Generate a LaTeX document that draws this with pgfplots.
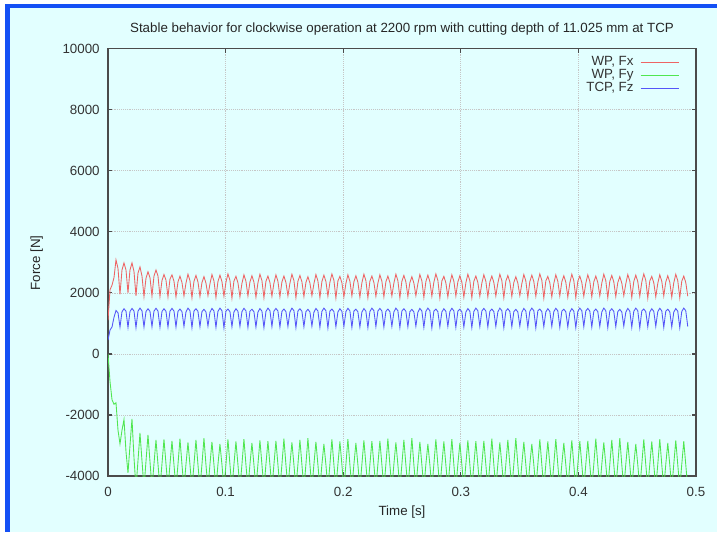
\documentclass[border=0pt]{standalone}
\usepackage{pgfplots}
\pgfplotsset{compat=1.18}
\usepackage{pgfplotstable}
\usepackage{fontspec}
\setmainfont{Liberation Sans}

\definecolor{framecol}{RGB}{20,80,245}
\definecolor{panelcol}{RGB}{226,255,255}
\definecolor{fxcol}{RGB}{238,100,100}
\definecolor{fycol}{RGB}{80,230,80}
\definecolor{fzcol}{RGB}{85,85,248}
\definecolor{axcol}{RGB}{75,75,75}

% t [s], WP Fx, WP Fy, TCP Fz [N]
\pgfplotstableread[row sep=\\]{
t fx fy fz\\
0 1100 0 450\\ 0.0017 2100 -900 780\\ 0.0034 2250 -1500 880\\ 0.0051 2500 -1650 1200\\
0.0068 3080 -1600 1420\\ 0.0085 2800 -2500 1350\\ 0.0102 1950 -2950 880\\ 0.0119 2750 -2500 1380\\
0.0136 2980 -2150 1480\\ 0.0153 2750 -3200 1400\\ 0.017 2000 -3900 870\\ 0.0187 2750 -3000 1390\\
0.0204 2980 -2130 1490\\ 0.0221 2700 -3400 1405\\ 0.0238 1900 -4400 860\\ 0.0255 2650 -3500 1400\\
0.0272 2850 -2590 1500\\ 0.0289 2550 -3500 1410\\ 0.0306 1880 -4400 880\\ 0.0323 2480 -3520 1390\\
0.034 2690 -2650 1480\\ 0.0357 2500 -3530 1395\\ 0.0374 1900 -4400 890\\ 0.0391 2550 -3600 1400\\
0.0408 2750 -2820 1495\\ 0.0425 2550 -3610 1405\\ 0.0442 1880 -4400 870\\ 0.0459 2400 -3600 1390\\
0.0476 2600 -2800 1480\\ 0.0493 2420 -3600 1395\\ 0.051 1870 -4400 880\\ 0.0527 2450 -3620 1400\\
0.0544 2590 -2850 1490\\ 0.0561 2380 -3630 1405\\ 0.0578 1870 -4400 880\\ 0.0595 2360 -3620 1395\\
0.0612 2550 -2780 1470\\ 0.0629 2340 -3630 1385\\ 0.0646 1900 -4400 900\\ 0.0663 2320 -3620 1375\\
0.068 2610 -2900 1500\\ 0.0697 2400 -3630 1415\\ 0.0714 1840 -4400 860\\ 0.0731 2380 -3620 1405\\
0.0748 2570 -2820 1480\\ 0.0765 2360 -3630 1395\\ 0.0782 1880 -4400 890\\ 0.0799 2340 -3620 1385\\
0.0816 2530 -2760 1460\\ 0.0833 2320 -3630 1375\\ 0.085 1910 -4400 910\\ 0.0867 2300 -3620 1365\\
0.0884 2600 -2880 1490\\ 0.0901 2390 -3630 1405\\ 0.0918 1850 -4400 870\\ 0.0935 2370 -3620 1395\\
0.0952 2580 -2950 1500\\ 0.0969 2370 -3630 1415\\ 0.0986 1890 -4400 850\\ 0.1003 2350 -3620 1405\\
0.102 2620 -2800 1470\\ 0.1037 2410 -3630 1385\\ 0.1054 1830 -4400 890\\ 0.1071 2390 -3620 1375\\
0.1088 2540 -2870 1480\\ 0.1105 2330 -3630 1395\\ 0.1122 1870 -4400 900\\ 0.1139 2310 -3620 1385\\
0.1156 2590 -2790 1495\\ 0.1173 2380 -3630 1410\\ 0.119 1900 -4400 870\\ 0.1207 2360 -3620 1400\\
0.1224 2560 -2920 1465\\ 0.1241 2350 -3630 1380\\ 0.1258 1860 -4400 880\\ 0.1275 2330 -3620 1370\\
0.1292 2610 -2830 1485\\ 0.1309 2400 -3630 1400\\ 0.1326 1840 -4400 860\\ 0.1343 2380 -3620 1390\\
0.136 2550 -2860 1500\\ 0.1377 2340 -3630 1415\\ 0.1394 1890 -4400 895\\ 0.1411 2320 -3620 1405\\
0.1428 2590 -2850 1490\\ 0.1445 2380 -3630 1405\\ 0.1462 1870 -4400 880\\ 0.1479 2360 -3620 1395\\
0.1496 2550 -2780 1470\\ 0.1513 2340 -3630 1385\\ 0.153 1900 -4400 900\\ 0.1547 2320 -3620 1375\\
0.1564 2610 -2900 1500\\ 0.1581 2400 -3630 1415\\ 0.1598 1840 -4400 860\\ 0.1615 2380 -3620 1405\\
0.1632 2570 -2820 1480\\ 0.1649 2360 -3630 1395\\ 0.1666 1880 -4400 890\\ 0.1683 2340 -3620 1385\\
0.17 2530 -2760 1460\\ 0.1717 2320 -3630 1375\\ 0.1734 1910 -4400 910\\ 0.1751 2300 -3620 1365\\
0.1768 2600 -2880 1490\\ 0.1785 2390 -3630 1405\\ 0.1802 1850 -4400 870\\ 0.1819 2370 -3620 1395\\
0.1836 2580 -2950 1500\\ 0.1853 2370 -3630 1415\\ 0.187 1890 -4400 850\\ 0.1887 2350 -3620 1405\\
0.1904 2620 -2800 1470\\ 0.1921 2410 -3630 1385\\ 0.1938 1830 -4400 890\\ 0.1955 2390 -3620 1375\\
0.1972 2540 -2870 1480\\ 0.1989 2330 -3630 1395\\ 0.2006 1870 -4400 900\\ 0.2023 2310 -3620 1385\\
0.204 2590 -2790 1495\\ 0.2057 2380 -3630 1410\\ 0.2074 1900 -4400 870\\ 0.2091 2360 -3620 1400\\
0.2108 2560 -2920 1465\\ 0.2125 2350 -3630 1380\\ 0.2142 1860 -4400 880\\ 0.2159 2330 -3620 1370\\
0.2176 2610 -2830 1485\\ 0.2193 2400 -3630 1400\\ 0.221 1840 -4400 860\\ 0.2227 2380 -3620 1390\\
0.2244 2550 -2860 1500\\ 0.2261 2340 -3630 1415\\ 0.2278 1890 -4400 895\\ 0.2295 2320 -3620 1405\\
0.2312 2590 -2850 1490\\ 0.2329 2380 -3630 1405\\ 0.2346 1870 -4400 880\\ 0.2363 2360 -3620 1395\\
0.238 2550 -2780 1470\\ 0.2397 2340 -3630 1385\\ 0.2414 1900 -4400 900\\ 0.2431 2320 -3620 1375\\
0.2448 2610 -2900 1500\\ 0.2465 2400 -3630 1415\\ 0.2482 1840 -4400 860\\ 0.2499 2380 -3620 1405\\
0.2516 2570 -2820 1480\\ 0.2533 2360 -3630 1395\\ 0.255 1880 -4400 890\\ 0.2567 2340 -3620 1385\\
0.2584 2530 -2760 1460\\ 0.2601 2320 -3630 1375\\ 0.2618 1910 -4400 910\\ 0.2635 2300 -3620 1365\\
0.2652 2600 -2880 1490\\ 0.2669 2390 -3630 1405\\ 0.2686 1850 -4400 870\\ 0.2703 2370 -3620 1395\\
0.272 2580 -2950 1500\\ 0.2737 2370 -3630 1415\\ 0.2754 1890 -4400 850\\ 0.2771 2350 -3620 1405\\
0.2788 2620 -2800 1470\\ 0.2805 2410 -3630 1385\\ 0.2822 1830 -4400 890\\ 0.2839 2390 -3620 1375\\
0.2856 2540 -2870 1480\\ 0.2873 2330 -3630 1395\\ 0.289 1870 -4400 900\\ 0.2907 2310 -3620 1385\\
0.2924 2590 -2790 1495\\ 0.2941 2380 -3630 1410\\ 0.2958 1900 -4400 870\\ 0.2975 2360 -3620 1400\\
0.2992 2560 -2920 1465\\ 0.3009 2350 -3630 1380\\ 0.3026 1860 -4400 880\\ 0.3043 2330 -3620 1370\\
0.306 2610 -2830 1485\\ 0.3077 2400 -3630 1400\\ 0.3094 1840 -4400 860\\ 0.3111 2380 -3620 1390\\
0.3128 2550 -2860 1500\\ 0.3145 2340 -3630 1415\\ 0.3162 1890 -4400 895\\ 0.3179 2320 -3620 1405\\
0.3196 2590 -2850 1490\\ 0.3213 2380 -3630 1405\\ 0.323 1870 -4400 880\\ 0.3247 2360 -3620 1395\\
0.3264 2550 -2780 1470\\ 0.3281 2340 -3630 1385\\ 0.3298 1900 -4400 900\\ 0.3315 2320 -3620 1375\\
0.3332 2610 -2900 1500\\ 0.3349 2400 -3630 1415\\ 0.3366 1840 -4400 860\\ 0.3383 2380 -3620 1405\\
0.34 2570 -2820 1480\\ 0.3417 2360 -3630 1395\\ 0.3434 1880 -4400 890\\ 0.3451 2340 -3620 1385\\
0.3468 2530 -2760 1460\\ 0.3485 2320 -3630 1375\\ 0.3502 1910 -4400 910\\ 0.3519 2300 -3620 1365\\
0.3536 2600 -2880 1490\\ 0.3553 2390 -3630 1405\\ 0.357 1850 -4400 870\\ 0.3587 2370 -3620 1395\\
0.3604 2580 -2950 1500\\ 0.3621 2370 -3630 1415\\ 0.3638 1890 -4400 850\\ 0.3655 2350 -3620 1405\\
0.3672 2620 -2800 1470\\ 0.3689 2410 -3630 1385\\ 0.3706 1830 -4400 890\\ 0.3723 2390 -3620 1375\\
0.374 2540 -2870 1480\\ 0.3757 2330 -3630 1395\\ 0.3774 1870 -4400 900\\ 0.3791 2310 -3620 1385\\
0.3808 2590 -2790 1495\\ 0.3825 2380 -3630 1410\\ 0.3842 1900 -4400 870\\ 0.3859 2360 -3620 1400\\
0.3876 2560 -2920 1465\\ 0.3893 2350 -3630 1380\\ 0.391 1860 -4400 880\\ 0.3927 2330 -3620 1370\\
0.3944 2610 -2830 1485\\ 0.3961 2400 -3630 1400\\ 0.3978 1840 -4400 860\\ 0.3995 2380 -3620 1390\\
0.4012 2550 -2860 1500\\ 0.4029 2340 -3630 1415\\ 0.4046 1890 -4400 895\\ 0.4063 2320 -3620 1405\\
0.408 2590 -2850 1490\\ 0.4097 2380 -3630 1405\\ 0.4114 1870 -4400 880\\ 0.4131 2360 -3620 1395\\
0.4148 2550 -2780 1470\\ 0.4165 2340 -3630 1385\\ 0.4182 1900 -4400 900\\ 0.4199 2320 -3620 1375\\
0.4216 2610 -2900 1500\\ 0.4233 2400 -3630 1415\\ 0.425 1840 -4400 860\\ 0.4267 2380 -3620 1405\\
0.4284 2570 -2820 1480\\ 0.4301 2360 -3630 1395\\ 0.4318 1880 -4400 890\\ 0.4335 2340 -3620 1385\\
0.4352 2530 -2760 1460\\ 0.4369 2320 -3630 1375\\ 0.4386 1910 -4400 910\\ 0.4403 2300 -3620 1365\\
0.442 2600 -2880 1490\\ 0.4437 2390 -3630 1405\\ 0.4454 1850 -4400 870\\ 0.4471 2370 -3620 1395\\
0.4488 2580 -2950 1500\\ 0.4505 2370 -3630 1415\\ 0.4522 1890 -4400 850\\ 0.4539 2350 -3620 1405\\
0.4556 2620 -2800 1470\\ 0.4573 2410 -3630 1385\\ 0.459 1830 -4400 890\\ 0.4607 2390 -3620 1375\\
0.4624 2540 -2870 1480\\ 0.4641 2330 -3630 1395\\ 0.4658 1870 -4400 900\\ 0.4675 2310 -3620 1385\\
0.4692 2590 -2790 1495\\ 0.4709 2380 -3630 1410\\ 0.4726 1900 -4400 870\\ 0.4743 2360 -3620 1400\\
0.476 2560 -2920 1465\\ 0.4777 2350 -3630 1380\\ 0.4794 1860 -4400 880\\ 0.4811 2330 -3620 1370\\
0.4828 2610 -2830 1485\\ 0.4845 2400 -3630 1400\\ 0.4862 1840 -4400 860\\ 0.4879 2380 -3620 1390\\
0.4896 2550 -2860 1500\\ 0.4913 2340 -3630 1415\\ 0.493 1890 -4400 895\\
}\forcedata

\newcommand\lblfont{\fontsize{10}{11.5}\selectfont}

\begin{document}
\begin{tikzpicture}
\useasboundingbox (0,0) rectangle (537.75pt,399pt);
% page frame
\fill[white] (0,0) rectangle (537.75pt,399pt);
\fill[framecol] (3.75pt,0) rectangle (537.75pt,396pt);
\fill[panelcol] (7.5pt,0) rectangle (537.75pt,393pt);

\begin{axis}[
  at={(81pt,42pt)}, anchor=south west,
  width=441pt, height=320.5pt, scale only axis,
  xmin=0, xmax=0.5, ymin=-4000, ymax=10000,
  scaled x ticks=false, scaled y ticks=false,
  xtick={0,0.1,0.2,0.3,0.4,0.5},
  xticklabels={0,0.1,0.2,0.3,0.4,0.5},
  ytick={-4000,-2000,0,2000,4000,6000,8000,10000},
  yticklabels={-4000,-2000,0,2000,4000,6000,8000,10000},
  tick align=inside, major tick length=3.2pt,
  axis line style={axcol, line width=1pt},
  every tick/.style={axcol, line width=0.9pt},
  grid=major,
  major grid style={gray!45, densely dotted, line width=0.5pt},
  ticklabel style={font=\lblfont, text=black!80},
  xticklabel style={yshift=-4.5pt},
  yticklabel style={xshift=-2.75pt},
  legend cell align=right,
  legend plot pos=right,
  legend image code/.code={\draw[#1] (0pt,0pt) -- (28.5pt,0pt);},
  legend style={draw=none, fill=none, at={(1,1)}, anchor=north east,
    xshift=-12.5pt, yshift=-5.5pt, inner sep=0pt, row sep=0pt,
    column sep=5pt, font=\lblfont, text=black!80,
    nodes={inner sep=0pt, text height=7.2pt, text depth=2.5pt}},
]
\addplot[fxcol, line width=0.65pt] table[x=t, y=fx] {\forcedata};
\addlegendentry{WP, Fx}
\addplot[fycol, line width=0.65pt] table[x=t, y=fy] {\forcedata};
\addlegendentry{WP, Fy}
\addplot[fzcol, line width=0.65pt] table[x=t, y=fz] {\forcedata};
\addlegendentry{TCP, Fz}
\end{axis}

\node[font=\lblfont, text=black!85] at (301.5pt,377pt)
  {Stable behavior for clockwise operation at 2200 rpm with cutting depth of 11.025 mm at TCP};
\node[font=\lblfont, text=black!85] at (301.5pt,15pt) {Time [s]};
\node[font=\lblfont, text=black!85, rotate=90] at (27.5pt,201.75pt) {Force [N]};
\end{tikzpicture}
\end{document}
